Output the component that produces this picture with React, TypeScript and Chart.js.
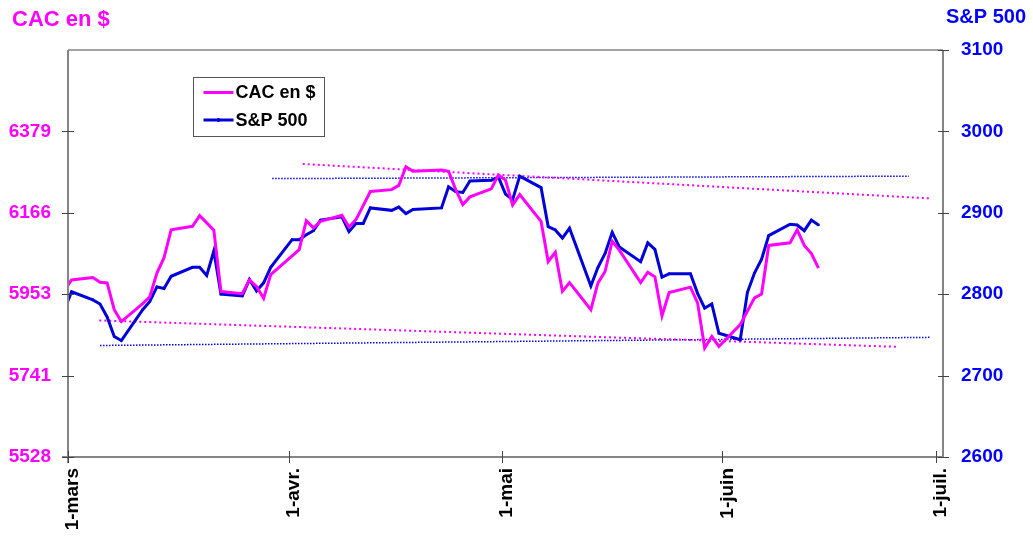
import React, { useEffect, useRef } from "react";
import { Chart, registerables } from "chart.js";

Chart.register(...registerables);

// ---------- data ----------
const xTickDays = [0, 31, 61, 92, 122];
const xTickLabels = ["1-mars", "1-avr.", "1-mai", "1-juin", "1-juil."];
const xMinDay = 0;
const xMaxDay = 123;

const cacTickLabels = ["5528", "5741", "5953", "6166", "6379", ""];
const cacMin = 5528;
const cacMax = 6592;

const spTickValues = [2600, 2700, 2800, 2900, 3000, 3100];

const cacLabel = "CAC en $";
const spLabel = "S&P 500";

// day index from 1 March (trading days)
const cacDays = [
  -1, 0, 3, 4, 5, 6, 7, 10, 11, 12, 13, 14, 17, 18, 19, 20, 21, 24, 25, 26, 27, 28,
  32, 33, 34, 35, 38, 39, 40, 41, 42, 45, 46, 47, 48, 52, 53, 54, 55, 56, 59, 60,
  61, 62, 63, 66, 67, 68, 69, 70, 73, 74, 75, 76, 77, 80, 81, 82, 83, 84, 87, 88,
  89, 90, 91, 94, 95, 96, 97, 98, 101, 102, 103, 104, 105,
];
const cacValues = [
  5963, 5991, 5997, 5985, 5983, 5913, 5882, 5929, 5947, 6009, 6049, 6122, 6131, 6159, 6140, 6121, 5961, 5955, 5991, 5974, 5943, 6005,
  6070, 6146, 6127, 6144, 6160, 6129, 6149, 6185, 6222, 6227, 6238, 6287, 6275, 6278, 6275, 6227, 6188, 6208, 6229, 6265,
  6252, 6187, 6214, 6144, 6039, 6063, 5961, 5984, 5913, 5983, 6013, 6092, 6069, 5984, 6011, 5999, 5897, 5958, 5972, 5931,
  5813, 5843, 5817, 5874, 5909, 5944, 5954, 6081, 6088, 6122, 6081, 6060, 6022,
];

const spDays = [
  -1, 0, 3, 4, 5, 6, 7, 10, 11, 12, 13, 14, 17, 18, 19, 20, 21, 24, 25, 26, 27, 28,
  31, 32, 33, 34, 35, 38, 39, 40, 41, 42, 45, 46, 47, 48, 52, 53, 54, 55, 56, 59, 60,
  61, 62, 63, 66, 67, 68, 69, 70, 73, 74, 75, 76, 77, 80, 81, 82, 83, 84, 87, 88,
  89, 90, 91, 94, 95, 96, 97, 98, 101, 102, 103, 104, 105,
];
const spValues = [
  2781, 2803, 2793, 2788, 2772, 2748, 2743, 2781, 2791, 2809, 2807, 2822, 2833, 2833, 2823, 2853, 2800, 2798, 2818, 2804, 2814, 2833,
  2867, 2867, 2873, 2878, 2891, 2895, 2877, 2887, 2887, 2906, 2903, 2907, 2899, 2904, 2906, 2932, 2926, 2925, 2939, 2940, 2944,
  2923, 2916, 2945, 2931, 2883, 2879, 2869, 2881, 2810, 2833, 2850, 2876, 2858, 2840, 2863, 2855, 2821, 2825, 2825, 2801,
  2783, 2788, 2752, 2744, 2802, 2826, 2843, 2872, 2886, 2885, 2878, 2891, 2885,
];

// trend lines (start / end)
const cacUpperTrendDays = [33, 121.2];
const cacUpperTrendValues = [6294, 6204];
const cacLowerTrendDays = [4.4, 116.6];
const cacLowerTrendValues = [5885, 5816];
const spUpperTrendDays = [28.7, 118.2];
const spUpperTrendValues = [2942, 2945];
const spLowerTrendDays = [4.5, 121.2];
const spLowerTrendValues = [2737, 2747];

// ---------- styles ----------
const FONT = '"Liberation Sans", Arial, Helvetica, sans-serif';
const MAGENTA = "#FF00FF";
const BLUE_TEXT = "#0000FF";
const BLUE_LINE = "#0000D8";
const AXIS_GRAY = "#858585";

const slot = (d: number) => d + 0.5; // Excel date axis: point in middle of day slot
const pts = (days: number[], vals: number[], mid = true) =>
  days.map((d, i) => ({ x: mid ? slot(d) : d, y: vals[i] }));

const decorPlugin = {
  id: "decor",
  afterDraw(chart: any) {
    const { ctx, chartArea } = chart;
    const { left, right, top, bottom } = chartArea;
    const yL = chart.scales.yL;
    const yR = chart.scales.yR;
    const x = chart.scales.x;
    ctx.save();

    // frame
    ctx.strokeStyle = AXIS_GRAY;
    ctx.lineWidth = 1.5;
    ctx.beginPath();
    ctx.moveTo(left, top);
    ctx.lineTo(right, top);
    ctx.stroke();
    ctx.lineWidth = 2;
    ctx.beginPath();
    ctx.moveTo(left, top);
    ctx.lineTo(left, bottom + 6);
    ctx.moveTo(left - 6, bottom);
    ctx.lineTo(right, bottom);
    ctx.moveTo(right, top);
    ctx.lineTo(right, bottom);
    ctx.stroke();

    // cross ticks
    ctx.strokeStyle = "#444";
    ctx.lineWidth = 1;
    ctx.beginPath();
    yL.ticks.forEach((t: any, i: number) => {
      if (!cacTickLabels[i]) return;
      const py = Math.round(yL.getPixelForValue(t.value)) + 0.5;
      ctx.moveTo(left - 6, py);
      ctx.lineTo(left + 6, py);
    });
    yR.ticks.forEach((t: any) => {
      const py = Math.round(yR.getPixelForValue(t.value)) + 0.5;
      ctx.moveTo(right - 5, py);
      ctx.lineTo(right + 6, py);
    });
    x.ticks.forEach((t: any) => {
      const px = Math.round(x.getPixelForValue(t.value)) + 0.5;
      ctx.moveTo(px, bottom - 6);
      ctx.lineTo(px, bottom + 6);
    });
    ctx.stroke();

    // axis titles
    ctx.textBaseline = "alphabetic";
    ctx.font = `bold 22px ${FONT}`;
    ctx.fillStyle = MAGENTA;
    ctx.textAlign = "left";
    ctx.fillText(cacLabel, 12, 26);
    ctx.font = `bold 20px ${FONT}`;
    ctx.fillStyle = BLUE_TEXT;
    ctx.textAlign = "right";
    ctx.fillText(spLabel, 1026, 23);

    // legend box
    const bx = left + 125.5;
    const by = top + 27.5;
    const bw = 131;
    const bh = 59;
    ctx.fillStyle = "#fff";
    ctx.fillRect(bx, by, bw, bh);
    ctx.strokeStyle = "#555";
    ctx.lineWidth = 1;
    ctx.strokeRect(bx, by, bw, bh);
    const row1 = by + 15;
    const row2 = by + 42.5;
    ctx.lineWidth = 3;
    ctx.strokeStyle = MAGENTA;
    ctx.beginPath();
    ctx.moveTo(bx + 10, row1);
    ctx.lineTo(bx + 40, row1);
    ctx.stroke();
    ctx.strokeStyle = BLUE_LINE;
    ctx.beginPath();
    ctx.moveTo(bx + 10, row2);
    ctx.lineTo(bx + 40, row2);
    ctx.stroke();
    ctx.fillStyle = BLUE_LINE;
    ctx.beginPath();
    ctx.arc(bx + 25, row2, 2, 0, Math.PI * 2);
    ctx.fill();
    ctx.font = `bold 18px ${FONT}`;
    ctx.fillStyle = "#000";
    ctx.textAlign = "left";
    ctx.textBaseline = "middle";
    ctx.fillText(chart.data.datasets[0].label, bx + 42, row1 + 1);
    ctx.fillText(chart.data.datasets[1].label, bx + 42, row2 + 1);
    ctx.restore();
  },
};

export default function App() {
  const canvasRef = useRef<HTMLCanvasElement | null>(null);

  useEffect(() => {
    document.body.style.margin = "0";
    const canvas = canvasRef.current;
    if (!canvas) return;

    const trend = (label: string, data: any[], color: string, axis: string, width: number, dash: number[]) => ({
      label,
      data,
      yAxisID: axis,
      borderColor: color,
      borderWidth: width,
      borderDash: dash,
      pointRadius: 0,
      fill: false,
      tension: 0,
    });

    const chart = new Chart(canvas, {
      type: "line",
      data: {
        datasets: [
          {
            label: cacLabel,
            data: pts(cacDays, cacValues),
            yAxisID: "yL",
            borderColor: MAGENTA,
            borderWidth: 3,
            pointRadius: 0,
            fill: false,
            tension: 0,
            clip: 0,
          } as any,
          {
            label: spLabel,
            data: pts(spDays, spValues),
            yAxisID: "yR",
            borderColor: BLUE_LINE,
            backgroundColor: BLUE_LINE,
            borderWidth: 3,
            pointRadius: 1.3,
            pointBorderWidth: 0,
            fill: false,
            tension: 0,
            clip: 0,
          } as any,
          trend("cacUp", pts(cacUpperTrendDays, cacUpperTrendValues, false), MAGENTA, "yL", 2, [2, 3]),
          trend("cacLow", pts(cacLowerTrendDays, cacLowerTrendValues, false), MAGENTA, "yL", 2, [2, 3]),
          trend("spUp", pts(spUpperTrendDays, spUpperTrendValues, false), BLUE_TEXT, "yR", 1.5, [1.5, 1.5]),
          trend("spLow", pts(spLowerTrendDays, spLowerTrendValues, false), BLUE_TEXT, "yR", 1.5, [1.5, 1.5]),
        ],
      },
      options: {
        animation: false,
        responsive: false,
        maintainAspectRatio: false,
        layout: { padding: { top: 50, left: 0, right: 0, bottom: 0 } },
        plugins: { legend: { display: false }, tooltip: { enabled: false }, title: { display: false } },
        scales: {
          x: {
            type: "linear",
            min: xMinDay,
            max: xMaxDay,
            afterBuildTicks: (s: any) => {
              s.ticks = xTickDays.map((v) => ({ value: v }));
            },
            afterFit: (s: any) => {
              s.height = 82;
            },
            grid: { display: false },
            border: { display: false },
            ticks: {
              autoSkip: false,
              minRotation: 90,
              maxRotation: 90,
              padding: 3,
              labelOffset: 5,
              color: "#000",
              font: { family: FONT, size: 19, weight: "bold" },
              callback: (v: any) => {
                const i = xTickDays.indexOf(Number(v));
                return i >= 0 ? xTickLabels[i] : "";
              },
            },
          },
          yL: {
            position: "left",
            min: cacMin,
            max: cacMax,
            afterBuildTicks: (s: any) => {
              s.ticks = cacTickLabels.map((_, i) => ({ value: cacMin + (i * (cacMax - cacMin)) / (cacTickLabels.length - 1) }));
            },
            afterFit: (s: any) => {
              s.width = 68;
            },
            grid: { display: false },
            border: { display: false },
            ticks: {
              padding: 9,
              color: MAGENTA,
              font: { family: FONT, size: 19, weight: "bold" },
              callback: (_v: any, i: number) => cacTickLabels[i],
            },
          },
          yR: {
            position: "right",
            min: spTickValues[0],
            max: spTickValues[spTickValues.length - 1],
            afterBuildTicks: (s: any) => {
              s.ticks = spTickValues.map((v) => ({ value: v }));
            },
            afterFit: (s: any) => {
              s.width = 90;
            },
            grid: { display: false },
            border: { display: false },
            ticks: {
              padding: 10,
              color: BLUE_TEXT,
              font: { family: FONT, size: 19, weight: "bold" },
              callback: (v: any) => String(v),
            },
          },
        },
      } as any,
      plugins: [decorPlugin],
    });

    return () => chart.destroy();
  }, []);

  return (
    <div style={{ width: 1033, height: 539, background: "#fff" }}>
      <canvas ref={canvasRef} width={1033} height={539} style={{ display: "block", width: 1033, height: 539 }} />
    </div>
  );
}
